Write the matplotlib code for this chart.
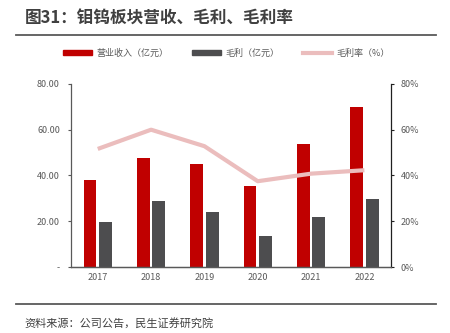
import matplotlib
matplotlib.use("Agg")
import matplotlib.pyplot as plt
import numpy as np
from matplotlib.lines import Line2D
from matplotlib.patches import Patch

plt.rcParams['font.family'] = ['Noto Sans CJK SC', 'DejaVu Sans']

years = ['2017', '2018', '2019', '2020', '2021', '2022']
revenue = [37.9, 47.7, 45.2, 35.6, 53.6, 69.7]
gross_profit = [19.7, 28.7, 23.9, 13.4, 22.0, 29.6]
gross_margin = [51.6, 60.0, 52.8, 37.5, 40.8, 42.3]

left_ticks = [0, 20, 40, 60, 80]
left_labels = ['-', '20.00', '40.00', '60.00', '80.00']
right_ticks = [0, 20, 40, 60, 80]
right_labels = ['0%', '20%', '40%', '60%', '80%']

red = '#C00000'
dark = '#4D4D4F'
pink = '#EBBDBD'

fig = plt.figure(figsize=(4.5, 3.33), dpi=100)
ax = fig.add_axes([0.158, 0.198, 0.711, 0.550])
ax2 = ax.twinx()

x = np.arange(len(years))
w = 0.24
off = 0.146
ax.bar(x - off, revenue, width=w, color=red, zorder=2)
ax.bar(x + off, gross_profit, width=w, color=dark, zorder=2)
ax2.plot(x, gross_margin, color=pink, lw=3, solid_capstyle='butt', zorder=3)

ax.set_xlim(-0.5, len(years) - 0.5)
ax.set_ylim(0, 80)
ax2.set_ylim(0, 80)
ax.set_yticks(left_ticks)
ax.set_yticklabels(left_labels)
ax2.set_yticks(right_ticks)
ax2.set_yticklabels(right_labels)
ax.set_xticks(x)
ax.set_xticklabels(years)

ax.tick_params(axis='y', labelsize=6.5, colors='#595959', labelcolor='#595959',
               length=2.5, width=0.8, pad=5.5)
ax2.tick_params(axis='y', labelsize=6.5, colors='#202020', labelcolor='#595959',
                length=2.5, width=0.8, pad=4.5)
for a in (ax, ax2):
    a.spines['top'].set_visible(False)
    for s in ('left', 'right', 'bottom'):
        a.spines[s].set_color('#595959')
        a.spines[s].set_linewidth(0.9)
ax.tick_params(axis='x', length=0, labelsize=6.5, labelcolor='#595959', pad=4)
ax2.spines['left'].set_visible(False)
ax.spines['right'].set_visible(False)
ax2.spines['right'].set_color('#202020')

# title
fig.text(0.055, 0.945, '图31：钼钨板块营收、毛利、毛利率', fontsize=12, fontweight='bold',
         color='#404040', va='center', ha='left')
fig.add_artist(Line2D([0.036, 0.969], [0.896, 0.896], color='#595959', lw=1.3))
fig.add_artist(Line2D([0.036, 0.969], [0.087, 0.087], color='#595959', lw=1.3))
fig.text(0.055, 0.03, '资料来源：公司公告，民生证券研究院', fontsize=8,
         color='#404040', va='center', ha='left')

handles = [Patch(color=red), Patch(color=dark), Line2D([0], [0], color=pink, lw=3)]
labels = ['营业收入（亿元）', '毛利（亿元）', '毛利率（%）']
fig.legend(handles, labels, loc='center', bbox_to_anchor=(0.503, 0.84), ncol=3,
           frameon=False, fontsize=6.5, handlelength=3.2, handleheight=0.5,
           columnspacing=2.6, handletextpad=0.5, labelcolor='#595959')

fig.savefig('out.png', dpi=100)
